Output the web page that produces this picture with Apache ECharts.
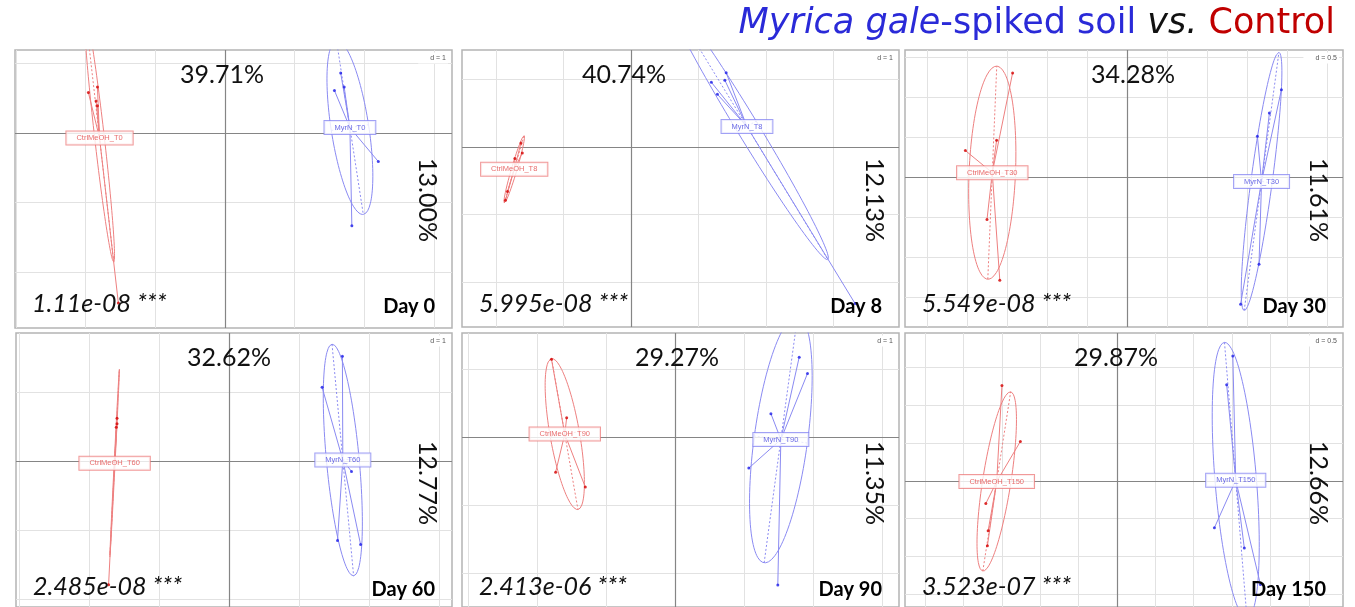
<!DOCTYPE html>
<html>
<head>
<meta charset="utf-8">
<script src="https://cdn.jsdelivr.net/npm/echarts@6/dist/echarts.min.js"></script>
<style>
  html, body { margin: 0; padding: 0; background: #fff; }
  #main { width: 1355px; height: 607px; }
</style>
</head>
<body>
<div id="main"></div>
<script>
// one panel per sampling day
var days = ['Day 0', 'Day 8', 'Day 30', 'Day 60', 'Day 90', 'Day 150']
var ctrlNames = ['CtrlMeOH_T0', 'CtrlMeOH_T8', 'CtrlMeOH_T30', 'CtrlMeOH_T60', 'CtrlMeOH_T90', 'CtrlMeOH_T150']
var myrNames = ['MyrN_T0', 'MyrN_T8', 'MyrN_T30', 'MyrN_T60', 'MyrN_T90', 'MyrN_T150']
var axis1Pct = ['39.71%', '40.74%', '34.28%', '32.62%', '29.27%', '29.87%']
var axis2Pct = ['13.00%', '12.13%', '11.61%', '12.77%', '11.35%', '12.66%']
var pValues = ['1.11e-08 ***', '5.995e-08 ***', '5.549e-08 ***', '2.485e-08 ***', '2.413e-06 ***', '3.523e-07 ***']
var gridD = [1, 1, 0.5, 1, 1, 0.5]

// sample scores (axis 1, axis 2)
var ctrlScores = [
  [[-1.96, 0.58], [-1.83, 0.66], [-1.85, 0.46], [-1.83, 0.39], [-1.53, -2.44]],
  [[-1.63, 0.06], [-1.61, -0.09], [-1.72, -0.17], [-1.83, -0.66], [-1.86, -0.79]],
  [[-1.43, 1.30], [-1.63, 0.46], [-2.02, 0.33], [-1.75, -0.53], [-1.59, -1.29]],
  [[-1.60, 0.62], [-1.60, 0.54], [-1.61, 0.49], [-1.64, -0.01], [-1.72, -1.79]],
  [[-1.79, 1.15], [-1.57, 0.29], [-1.73, -0.51], [-1.30, -0.73]],
  [[-1.50, 1.26], [-1.26, 0.52], [-1.71, -0.30], [-1.68, -0.66], [-1.69, -0.86]]
]
var myrScores = [
  [[1.66, 0.86], [1.71, 0.66], [1.57, 0.61], [2.20, -0.41], [1.82, -1.33]],
  [[1.19, 0.96], [1.41, 1.10], [1.39, 0.99], [1.28, 0.78], [3.32, -2.32]],
  [[1.93, 1.09], [1.78, 0.80], [1.63, 0.51], [1.65, -1.09], [1.42, -1.59]],
  [[1.62, 1.52], [1.33, 1.07], [1.75, -0.15], [1.55, -1.15], [1.88, -1.21]],
  [[1.80, 1.18], [1.92, 0.94], [1.39, 0.35], [1.07, -0.45], [1.49, -2.17]],
  [[1.51, 1.65], [1.43, 1.27], [1.27, -0.62], [1.66, -0.89], [1.87, -1.37]]
]

// panel boxes in px, origin in px and px per unit
var panels = [
  { left: 15, top: 50, w: 437, h: 278, ox: 225, oy: 133, unit: 69.7, pctX: 222 },
  { left: 462, top: 50, w: 437, h: 277, ox: 631, oy: 147, unit: 67.5, pctX: 624 },
  { left: 905, top: 50, w: 438, h: 277, ox: 1127, oy: 177, unit: 80, pctX: 1133 },
  { left: 16, top: 333, w: 436, h: 278, ox: 229, oy: 463, unit: 70, pctX: 229 },
  { left: 462, top: 333, w: 437, h: 278, ox: 675, oy: 439, unit: 69, pctX: 677 },
  { left: 905, top: 333, w: 438, h: 278, ox: 1117, oy: 483, unit: 76.7, pctX: 1116 }
]

var RED_LINE = '#ee8080', RED_PT = '#d40000', RED_TXT = '#e24848'
var BLUE_LINE = '#8a8af2', BLUE_PT = '#1c1ce8', BLUE_TXT = '#4646e0'
var FONT = 'Lato'
var TITLE_FONT = 'DejaVu Sans'

// covariance ellipse like ade4 s.class (cellipse = 1.5)
function ellStats(pts) {
  var n = pts.length, mx = 0, my = 0
  pts.forEach(function (p) { mx += p[0] / n; my += p[1] / n })
  var cxx = 0, cyy = 0, cxy = 0
  pts.forEach(function (p) {
    cxx += (p[0] - mx) * (p[0] - mx) / n
    cyy += (p[1] - my) * (p[1] - my) / n
    cxy += (p[0] - mx) * (p[1] - my) / n
  })
  var tr = cxx + cyy, det = cxx * cyy - cxy * cxy
  var s = Math.sqrt(Math.max(tr * tr / 4 - det, 0))
  var l1 = tr / 2 + s, l2 = Math.max(tr / 2 - s, 0)
  var v1
  if (Math.abs(cxy) > 1e-12) {
    v1 = [l1 - cyy, cxy]
  } else {
    v1 = cxx >= cyy ? [1, 0] : [0, 1]
  }
  var len = Math.sqrt(v1[0] * v1[0] + v1[1] * v1[1])
  v1 = [v1[0] / len, v1[1] / len]
  var v2 = [-v1[1], v1[0]]
  var a = 1.5 * Math.sqrt(l1), b = 1.5 * Math.sqrt(l2)
  var curve = []
  for (var k = 0; k <= 120; k++) {
    var t = k / 120 * Math.PI * 2
    curve.push([mx + a * Math.cos(t) * v1[0] + b * Math.sin(t) * v2[0],
                my + a * Math.cos(t) * v1[1] + b * Math.sin(t) * v2[1]])
  }
  var axes = [
    { coords: [[mx - a * v1[0], my - a * v1[1]], [mx + a * v1[0], my + a * v1[1]]] },
    { coords: [[mx - b * v2[0], my - b * v2[1]], [mx + b * v2[0], my + b * v2[1]]] }
  ]
  return { c: [mx, my], curve: curve, axes: axes }
}

var grids = [], xAxes = [], yAxes = [], series = [], graphics = []

panels.forEach(function (p, i) {
  var xMin = (p.left - p.ox) / p.unit, xMax = (p.left + p.w - p.ox) / p.unit
  var yMax = (p.oy - p.top) / p.unit, yMin = (p.oy - p.top - p.h) / p.unit
  grids.push({ left: p.left, top: p.top, width: p.w, height: p.h, show: true,
    borderColor: '#b4b4b4', borderWidth: 1.5, backgroundColor: '#fff' })
  xAxes.push({ gridIndex: i, type: 'value', min: xMin, max: xMax, show: false })
  yAxes.push({ gridIndex: i, type: 'value', min: yMin, max: yMax, show: false })

  var d = gridD[i], light = [], dark = []
  for (var k = Math.ceil(xMin / d); k <= Math.floor(xMax / d); k++) {
    var v = k * d
    ;(k === 0 ? dark : light).push({ coords: [[v, yMin], [v, yMax]] })
  }
  for (var k2 = Math.ceil(yMin / d); k2 <= Math.floor(yMax / d); k2++) {
    var w = k2 * d
    ;(k2 === 0 ? dark : light).push({ coords: [[xMin, w], [xMax, w]] })
  }
  var common = { xAxisIndex: i, yAxisIndex: i, silent: true, animation: false }
  series.push(Object.assign({ type: 'lines', coordinateSystem: 'cartesian2d', data: light, z: 1,
    lineStyle: { color: '#e2e2e2', width: 1, opacity: 1 } }, common))
  series.push(Object.assign({ type: 'lines', coordinateSystem: 'cartesian2d', data: dark, z: 1,
    lineStyle: { color: '#858585', width: 1.2, opacity: 1 } }, common))

  var groups = [
    { pts: ctrlScores[i], name: ctrlNames[i], line: RED_LINE, pt: RED_PT, txt: RED_TXT },
    { pts: myrScores[i], name: myrNames[i], line: BLUE_LINE, pt: BLUE_PT, txt: BLUE_TXT }
  ]
  groups.forEach(function (g) {
    var st = ellStats(g.pts)
    series.push(Object.assign({ type: 'line', data: st.curve, showSymbol: false, clip: true, z: 2,
      lineStyle: { color: g.line, width: 1 } }, common))
    series.push(Object.assign({ type: 'lines', coordinateSystem: 'cartesian2d', data: st.axes, clip: true, z: 2,
      lineStyle: { color: g.line, width: 1, type: [2, 2], opacity: 1 } }, common))
    series.push(Object.assign({ type: 'lines', coordinateSystem: 'cartesian2d', clip: true, z: 3,
      data: g.pts.map(function (q) { return { coords: [st.c, q] } }),
      lineStyle: { color: g.line, width: 1, opacity: 1 } }, common))
    series.push(Object.assign({ type: 'scatter', data: g.pts, symbolSize: 3, clip: true, z: 4,
      itemStyle: { color: g.pt } }, common))
    series.push(Object.assign({ type: 'scatter', data: [st.c], symbolSize: 0, z: 6,
      label: { show: true, position: 'inside', formatter: g.name, color: g.txt,
        fontSize: 7.5, fontFamily: 'Liberation Sans', backgroundColor: '#fff',
        borderColor: g.line, borderWidth: 1, padding: [3, 10, 2, 10] } }, common))
  })

  // annotations
  graphics.push({ type: 'text', x: p.pctX, y: p.top + 25, z: 10,
    style: { text: axis1Pct[i], font: '25px ' + FONT, fill: '#111', align: 'center', verticalAlign: 'middle' } })
  graphics.push({ type: 'text', x: p.left + p.w - 25, y: p.top + 150, rotation: -Math.PI / 2, z: 10,
    style: { text: axis2Pct[i], font: '25px ' + FONT, fill: '#111', align: 'center', verticalAlign: 'middle' } })
  graphics.push({ type: 'text', x: p.left + 17, y: p.top + 254, z: 10,
    style: { text: pValues[i], font: 'italic 25px ' + FONT, fill: '#111', align: 'left', verticalAlign: 'middle' } })
  graphics.push({ type: 'text', x: p.left + p.w - 17, y: p.top + 257, z: 10,
    style: { text: days[i], font: 'bold 20px ' + FONT, fill: '#000', align: 'right', verticalAlign: 'middle' } })
  graphics.push({ type: 'text', x: p.left + p.w - 4, y: p.top + 8, z: 10,
    style: { text: 'd = ' + gridD[i], font: '7px Liberation Sans', fill: '#555', align: 'right', verticalAlign: 'middle',
      backgroundColor: '#fff', padding: [2, 2, 2, 12] } })
})

var chart = echarts.init(document.getElementById('main'))
chart.setOption({
  animation: false,
  backgroundColor: '#fff',
  title: {
    right: 15, top: 1,
    text: '{a|Myrica gale}{b|-spiked soil }{c|vs.}{d| Control}',
    textStyle: {
      fontWeight: 'normal',
      rich: {
        a: { fontFamily: TITLE_FONT, fontSize: 35, fontWeight: 'normal', fontStyle: 'italic', color: '#2a2ad8' },
        b: { fontFamily: TITLE_FONT, fontSize: 35, fontWeight: 'normal', color: '#2a2ad8' },
        c: { fontFamily: TITLE_FONT, fontSize: 35, fontWeight: 'normal', fontStyle: 'italic', color: '#111' },
        d: { fontFamily: TITLE_FONT, fontSize: 35, fontWeight: 'normal', color: '#c00000' }
      }
    }
  },
  grid: grids,
  xAxis: xAxes,
  yAxis: yAxes,
  series: series,
  graphic: graphics
})
</script>
</body>
</html>
